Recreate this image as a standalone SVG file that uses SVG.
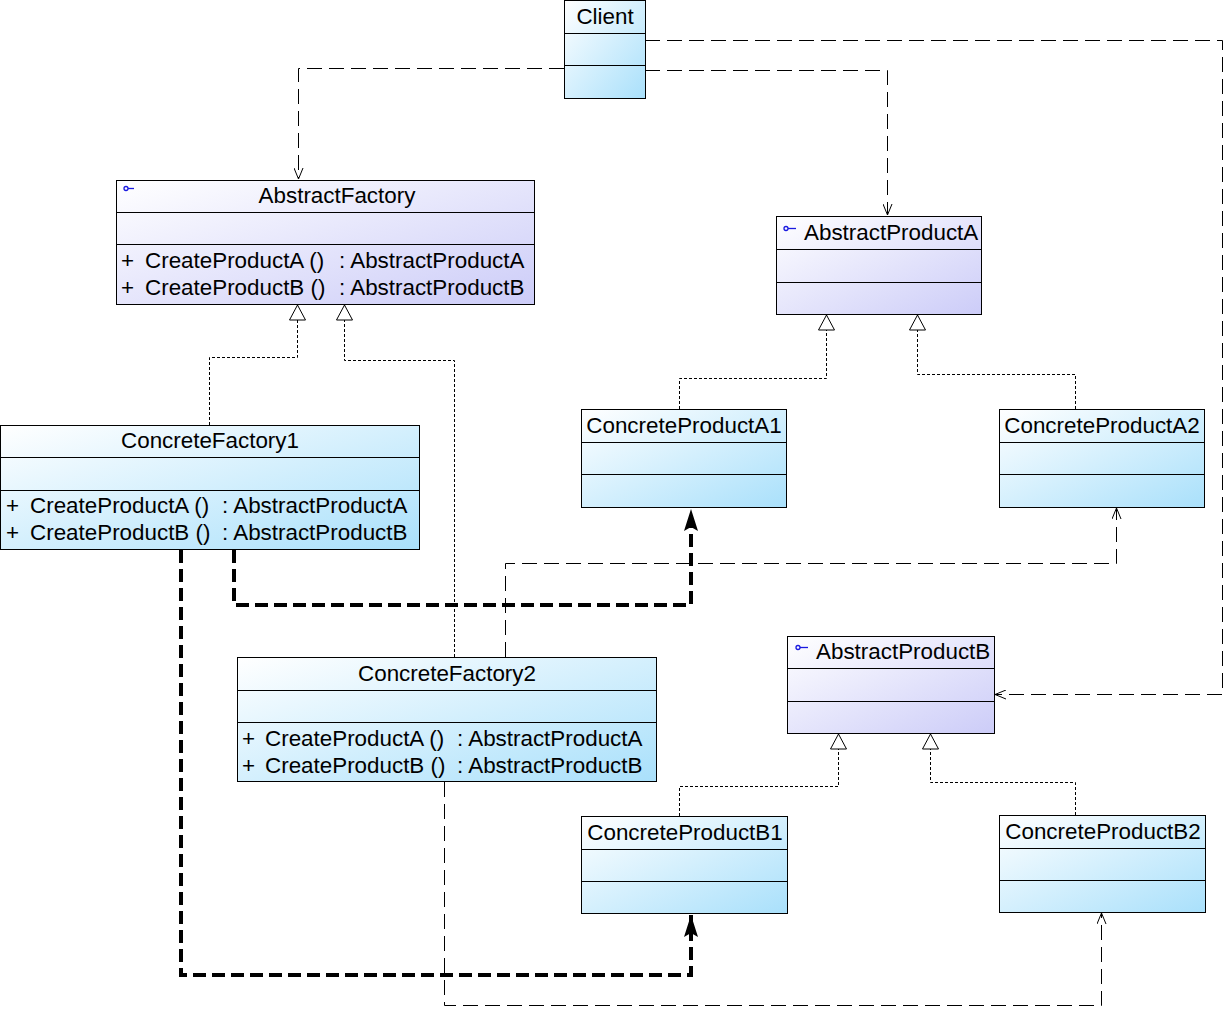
<svg xmlns="http://www.w3.org/2000/svg" width="1226" height="1009" viewBox="0 0 1226 1009">
<defs>
<linearGradient id="gc" x1="0" y1="0" x2="1" y2="1">
<stop offset="0" stop-color="#ffffff"/>
<stop offset="1" stop-color="#a9e0fb"/>
</linearGradient>
<linearGradient id="ga" x1="0" y1="0" x2="1" y2="1">
<stop offset="0" stop-color="#ffffff"/>
<stop offset="1" stop-color="#ccccf8"/>
</linearGradient>
<marker id="open" markerWidth="12" markerHeight="10" refX="11" refY="5" orient="auto" markerUnits="userSpaceOnUse">
<path d="M0,0.5 L11,5 L0,9.5" fill="none" stroke="#000" stroke-width="1"/>
</marker>
<marker id="tri" markerWidth="18" markerHeight="18" refX="16" refY="8.5" orient="auto" markerUnits="userSpaceOnUse">
<path d="M1,0.5 L16,8.5 L1,16.5 Z" fill="#fff" stroke="#000" stroke-width="1"/>
</marker>
<marker id="fill" markerWidth="24" markerHeight="16" refX="22" refY="8" orient="auto" markerUnits="userSpaceOnUse">
<path d="M0,1 L22,8 L0,15 L4,8 Z" fill="#000"/>
</marker>
</defs>
<style>
.box{stroke:#000;stroke-width:1}
.c{fill:url(#gc)}
.a{fill:url(#ga)}
.ln{stroke:#000;stroke-width:1}
text{font-family:"Liberation Sans",Arial,sans-serif;font-size:22.4px;fill:#000}
.t{text-anchor:middle}
.dash{fill:none;stroke:#000;stroke-width:1;stroke-dasharray:15,7;marker-end:url(#open)}
.dot{fill:none;stroke:#000;stroke-width:1;stroke-dasharray:3,2;marker-end:url(#tri)}
.thick{fill:none;stroke:#000;stroke-width:4;stroke-dasharray:13,6;marker-end:url(#fill)}
.icon{fill:none;stroke:#1a1ae0;stroke-width:1.3}
</style>

<g id="connectors">
<path class="dash" d="M564,68.5 H298.5 V179"/>
<path class="dash" d="M645,70.5 H887.5 V215"/>
<path class="dash" d="M645,40.5 H1222.5 V694.5 H995"/>
<path class="dot" d="M209.5,425 V357.5 H297.5 V305"/>
<path class="dot" d="M454.5,657 V360.5 H344.5 V305"/>
<path class="dot" d="M679.5,409 V378.5 H826.5 V315"/>
<path class="dot" d="M1075.5,409 V374.5 H917.5 V315"/>
<path class="dot" d="M679.5,816 V786.5 H838.5 V734"/>
<path class="dot" d="M1075.5,815 V782.5 H930.5 V734"/>
<path class="thick" d="M234,550 V605 H691 V509"/>
<path class="thick" d="M181,550 V975 H691 V915"/>
<path class="dash" d="M505.5,657 V563.5 H1116.5 V508"/>
<path class="dash" d="M444.5,782 V1005.5 H1101.5 V913"/>
</g>

<g id="Client">
<rect class="box c" x="564.5" y="0.5" width="81" height="98"/>
<line class="ln" x1="564.5" y1="33.5" x2="645.5" y2="33.5"/>
<line class="ln" x1="564.5" y1="65.5" x2="645.5" y2="65.5"/>
<text class="t" x="605" y="24">Client</text>
</g>

<g id="AbstractFactory">
<rect class="box a" x="116.5" y="180.5" width="418" height="124"/>
<line class="ln" x1="116.5" y1="212.5" x2="534.5" y2="212.5"/>
<line class="ln" x1="116.5" y1="244.5" x2="534.5" y2="244.5"/>
<circle class="icon" cx="126" cy="188.5" r="2"/><line class="icon" x1="128" y1="188.5" x2="134" y2="188.5"/>
<text class="t" x="337" y="203">AbstractFactory</text>
<text y="268"><tspan x="121">+</tspan><tspan x="145">CreateProductA ()</tspan><tspan x="339">: AbstractProductA</tspan></text>
<text y="295"><tspan x="121">+</tspan><tspan x="145">CreateProductB ()</tspan><tspan x="339">: AbstractProductB</tspan></text>
</g>

<g id="AbstractProductA">
<rect class="box a" x="776.5" y="216.5" width="205" height="98"/>
<line class="ln" x1="776.5" y1="249.5" x2="981.5" y2="249.5"/>
<line class="ln" x1="776.5" y1="282.5" x2="981.5" y2="282.5"/>
<circle class="icon" cx="786" cy="228.5" r="2"/><line class="icon" x1="788" y1="228.5" x2="796" y2="228.5"/>
<text x="804" y="240">AbstractProductA</text>
</g>

<g id="ConcreteFactory1">
<rect class="box c" x="0.5" y="425.5" width="419" height="124"/>
<line class="ln" x1="0.5" y1="457.5" x2="419.5" y2="457.5"/>
<line class="ln" x1="0.5" y1="490.5" x2="419.5" y2="490.5"/>
<text class="t" x="210" y="448">ConcreteFactory1</text>
<text y="513"><tspan x="6">+</tspan><tspan x="30">CreateProductA ()</tspan><tspan x="222">: AbstractProductA</tspan></text>
<text y="540"><tspan x="6">+</tspan><tspan x="30">CreateProductB ()</tspan><tspan x="222">: AbstractProductB</tspan></text>
</g>

<g id="ConcreteProductA1">
<rect class="box c" x="581.5" y="409.5" width="205" height="98"/>
<line class="ln" x1="581.5" y1="442.5" x2="786.5" y2="442.5"/>
<line class="ln" x1="581.5" y1="474.5" x2="786.5" y2="474.5"/>
<text class="t" x="684" y="433">ConcreteProductA1</text>
</g>

<g id="ConcreteProductA2">
<rect class="box c" x="999.5" y="409.5" width="205" height="98"/>
<line class="ln" x1="999.5" y1="442.5" x2="1204.5" y2="442.5"/>
<line class="ln" x1="999.5" y1="474.5" x2="1204.5" y2="474.5"/>
<text class="t" x="1102" y="433">ConcreteProductA2</text>
</g>

<g id="ConcreteFactory2">
<rect class="box c" x="237.5" y="657.5" width="419" height="124"/>
<line class="ln" x1="237.5" y1="690.5" x2="656.5" y2="690.5"/>
<line class="ln" x1="237.5" y1="722.5" x2="656.5" y2="722.5"/>
<text class="t" x="447" y="681">ConcreteFactory2</text>
<text y="746"><tspan x="242">+</tspan><tspan x="265">CreateProductA ()</tspan><tspan x="457">: AbstractProductA</tspan></text>
<text y="773"><tspan x="242">+</tspan><tspan x="265">CreateProductB ()</tspan><tspan x="457">: AbstractProductB</tspan></text>
</g>

<g id="AbstractProductB">
<rect class="box a" x="787.5" y="636.5" width="207" height="97"/>
<line class="ln" x1="787.5" y1="668.5" x2="994.5" y2="668.5"/>
<line class="ln" x1="787.5" y1="701.5" x2="994.5" y2="701.5"/>
<circle class="icon" cx="798" cy="647.5" r="2"/><line class="icon" x1="800" y1="647.5" x2="808" y2="647.5"/>
<text x="816" y="659">AbstractProductB</text>
</g>

<g id="ConcreteProductB1">
<rect class="box c" x="581.5" y="816.5" width="206" height="97"/>
<line class="ln" x1="581.5" y1="849.5" x2="787.5" y2="849.5"/>
<line class="ln" x1="581.5" y1="881.5" x2="787.5" y2="881.5"/>
<text class="t" x="685" y="840">ConcreteProductB1</text>
</g>

<g id="ConcreteProductB2">
<rect class="box c" x="999.5" y="815.5" width="206" height="97"/>
<line class="ln" x1="999.5" y1="848.5" x2="1205.5" y2="848.5"/>
<line class="ln" x1="999.5" y1="880.5" x2="1205.5" y2="880.5"/>
<text class="t" x="1103" y="839">ConcreteProductB2</text>
</g>
</svg>
